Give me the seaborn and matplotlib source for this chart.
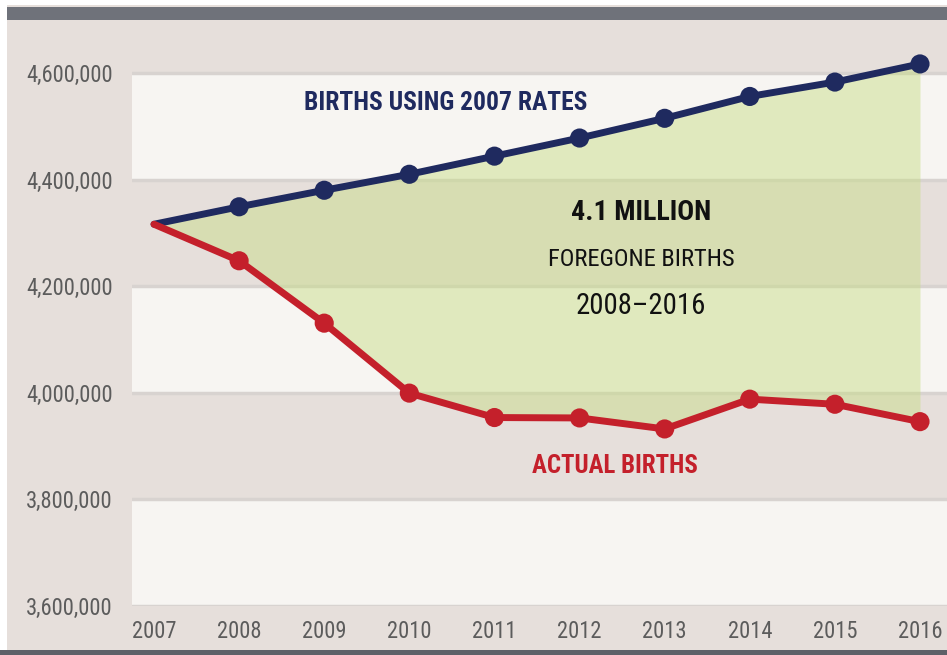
import matplotlib
matplotlib.use("Agg")
import matplotlib.pyplot as plt
import seaborn as sns
import pandas as pd
from matplotlib.patches import Rectangle
from matplotlib.ticker import FuncFormatter
from matplotlib import font_manager

years = [2007, 2008, 2009, 2010, 2011, 2012, 2013, 2014, 2015, 2016]
births_2007_rates = [4316233, 4349000, 4380000, 4410000, 4444000, 4478000, 4515000, 4556000, 4583000, 4617000]
actual_births = [4316233, 4247694, 4130665, 3999386, 3953590, 3952841, 3932181, 3988076, 3978497, 3945875]
y_ticks = [3600000, 3800000, 4000000, 4200000, 4400000, 4600000]

NAVY = "#1f2a5f"
RED = "#c4202b"
BEIGE = "#e6dfdb"
WHITE_BAND = "#f7f5f2"
GRID = "#d8d3d0"
TXT = "#5c5c5c"

sns.set_theme(style="white")

def pick_font():
    flist = font_manager.fontManager.ttflist
    names = {f.name for f in flist}
    for cand in ["Liberation Sans Narrow", "Roboto Condensed", "Arial Narrow", "Open Sans Condensed"]:
        if cand in names:
            return dict(family=cand), dict(family=cand, weight="bold")
    reg = [f.fname for f in flist if f.fname.endswith("DejaVuSansCondensed.ttf")]
    bold = [f.fname for f in flist if f.fname.endswith("DejaVuSansCondensed-Bold.ttf")]
    if reg and bold:
        return dict(fname=reg[0]), dict(fname=bold[0])
    for cand in ["Liberation Sans", "Roboto", "DejaVu Sans"]:
        if cand in names:
            return dict(family=cand), dict(family=cand, weight="bold")
    return dict(family="DejaVu Sans"), dict(family="DejaVu Sans", weight="bold")

reg_kw, bold_kw = pick_font()
if "family" in reg_kw:
    plt.rcParams['font.family'] = [reg_kw["family"], 'DejaVu Sans']

def fp(kw, size):
    return font_manager.FontProperties(size=size, **kw)

df = pd.DataFrame({"year": years, "rates": births_2007_rates, "actual": actual_births})

W, H = 947, 655
fig = plt.figure(figsize=(W / 100, H / 100), dpi=100, facecolor="white")

fig.patches.append(Rectangle((7 / W, 0), 1, 650 / H, transform=fig.transFigure,
                             facecolor=BEIGE, edgecolor="none", zorder=-10))
fig.patches.append(Rectangle((7 / W, (H - 20) / H), 1, 13 / H, transform=fig.transFigure,
                             facecolor="#6f727a", edgecolor="none", zorder=-9))
fig.patches.append(Rectangle((0, 0), 1, 5 / H, transform=fig.transFigure,
                             facecolor="#5e6068", edgecolor="none", zorder=-9))

ax_left, ax_right = 132, 947
ax_bottom, ax_top = 606, 20
ax = fig.add_axes([ax_left / W, (H - ax_bottom) / H, (ax_right - ax_left) / W, (ax_bottom - ax_top) / H])
ax.set_facecolor(BEIGE)

px_per_year = (920 - 154) / 9
ax.set_xlim(2007 - (154 - ax_left) / px_per_year, 2016 + (ax_right - 920) / px_per_year)
val_per_px = 1000000 / (606 - 73)
ax.set_ylim(3600000, 3600000 + (ax_bottom - ax_top) * val_per_px)

for lo, hi in [(3600000, 3800000), (4000000, 4200000), (4400000, 4600000)]:
    ax.axhspan(lo, hi, color=WHITE_BAND, zorder=0, lw=0)
for t in y_ticks:
    ax.axhline(t, color=GRID, lw=2.5, zorder=0.5)

ax.fill_between(df["year"], df["actual"], df["rates"], color="#c6dc80", alpha=0.45, lw=0, zorder=1)

sns.lineplot(data=df, x="year", y="rates", ax=ax, color=NAVY, lw=5, zorder=3,
             solid_capstyle="round")
sns.lineplot(data=df, x="year", y="actual", ax=ax, color=RED, lw=5, zorder=4,
             solid_capstyle="round")
sns.scatterplot(data=df.iloc[1:], x="year", y="rates", ax=ax, color=NAVY, s=190,
                edgecolor="none", zorder=5)
sns.scatterplot(data=df.iloc[1:], x="year", y="actual", ax=ax, color=RED, s=190,
                edgecolor="none", zorder=5)

ax.set_xticks(years)
ax.set_xticklabels([str(y) for y in years])
ax.set_yticks(y_ticks)
ax.yaxis.set_major_formatter(FuncFormatter(lambda v, p: f"{int(v):,}"))
ax.tick_params(axis="both", length=0, labelcolor=TXT)
ax.tick_params(axis="y", pad=14)
ax.tick_params(axis="x", pad=10)
ax.set_xlabel("")
ax.set_ylabel("")
for s in ax.spines.values():
    s.set_visible(False)
ax.grid(False)

texts = []
def add(x, y, s, color, kw, target_w):
    t = ax.text(x, y, s, color=color, fontproperties=fp(kw, 16), ha="center",
                va="center", zorder=6)
    texts.append((t, target_w))
    return t

add(2010.43, 4543700, "BIRTHS USING 2007 RATES", NAVY, bold_kw, 284)
add(2012.72, 4337400, "4.1 MILLION", "#111111", bold_kw, 140)
add(2012.72, 4249200, "FOREGONE BIRTHS", "#111111", reg_kw, 187)
add(2012.72, 4162000, "2008\u20132016", "#111111", reg_kw, 130)
add(2012.42, 3862700, "ACTUAL BIRTHS", RED, bold_kw, 166)

for lab in ax.get_xticklabels() + ax.get_yticklabels():
    lab.set_fontproperties(fp(reg_kw, 16))
    lab.set_color(TXT)

fig.canvas.draw()
renderer = fig.canvas.get_renderer()
for t, tw in texts:
    w = t.get_window_extent(renderer).width
    t.set_fontsize(t.get_fontsize() * tw / w)

ylabs = ax.get_yticklabels()
w = max(l.get_window_extent(renderer).width for l in ylabs)
size = 16 * 87 / w
for lab in ax.get_xticklabels() + ax.get_yticklabels():
    lab.set_fontsize(size)

fig.savefig("out.png", dpi=100, facecolor="white")
